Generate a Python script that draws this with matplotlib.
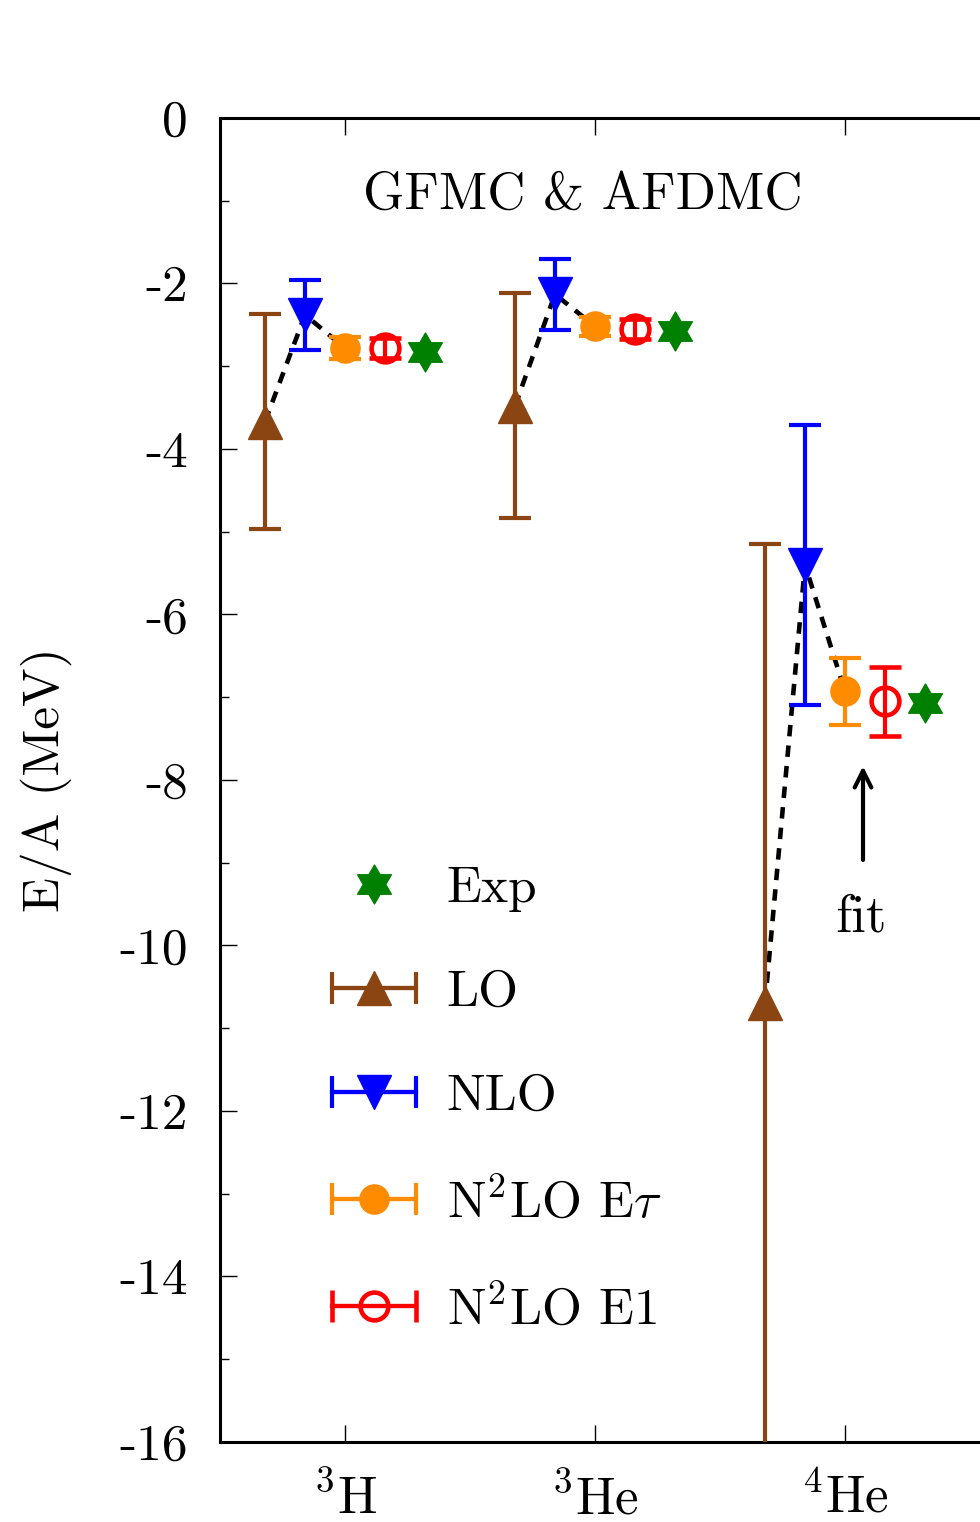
import numpy as np
import matplotlib
matplotlib.use("Agg")
import matplotlib.pyplot as plt
from matplotlib.path import Path
from matplotlib.container import ErrorbarContainer
from matplotlib.legend_handler import HandlerErrorbar
from matplotlib.lines import Line2D

plt.rcParams['font.family'] = ['cmr10', 'DejaVu Serif']
plt.rcParams['mathtext.fontset'] = 'cm'
plt.rcParams['axes.unicode_minus'] = False

# data: E/A in MeV for 3H, 3He, 4He
nuclei = ["${}^{3}$H", "${}^{3}$He", "${}^{4}$He"]
lo = [-3.67, -3.48, -10.70]
lo_err = [1.30, 1.36, 5.55]
nlo = [-2.38, -2.13, -5.40]
nlo_err = [0.42, 0.43, 1.69]
n2lo_et = [-2.78, -2.52, -6.93]
n2lo_et_err = [0.13, 0.12, 0.40]
n2lo_e1 = [-2.78, -2.55, -7.05]
n2lo_e1_err = [0.12, 0.12, 0.42]
exp = [-2.827, -2.573, -7.074]

yticks = [0, -2, -4, -6, -8, -10, -12, -14, -16]

x = np.arange(1, len(nuclei) + 1)
off = 0.16

brown = '#8B4513'
blue = '#0000FF'
orange = '#FF8C00'
red = '#FF0000'
green = '#008000'

hexagram = Path.unit_regular_star(6, 1 / np.sqrt(3))

fig = plt.figure(figsize=(9.8, 15.22), dpi=100)
ax = fig.add_axes([0.2245, 0.0526, 1.0204, 0.8699])

eb = dict(lw=3, capsize=11.5, capthick=3, ls='none')

# dotted lines LO -> NLO -> N2LO
for i in range(len(x)):
    ax.plot([x[i] - 2 * off, x[i] - off, x[i]], [lo[i], nlo[i], n2lo_et[i]],
            ls=(0, (2.5, 2)), color='k', lw=3.3, zorder=1)

ax.errorbar(x - 2 * off, lo, yerr=lo_err, color=brown, marker='^', ms=25, zorder=3, **eb)
ax.errorbar(x - off, nlo, yerr=nlo_err, color=blue, marker='v', ms=25, zorder=3, **eb)
ax.errorbar(x, n2lo_et, yerr=n2lo_et_err, color=orange, marker='o', ms=21, zorder=3, **eb)
ax.errorbar(x + off, n2lo_e1, yerr=n2lo_e1_err, color=red, marker='o', ms=20,
            mfc='none', mew=3.3, zorder=3, **eb)
ax.plot(x + 2 * off, exp, ls='none', marker=hexagram, ms=28, color=green, zorder=3)

# legend proxies (horizontal bars like the original)
nan = [np.nan]
h_exp = Line2D([], [], ls='none', marker=hexagram, ms=28, color=green)
h_lo = ax.errorbar(nan, nan, xerr=[1], fmt='-', color=brown, marker='^', ms=25, lw=3, capsize=11.5, capthick=3)
h_nlo = ax.errorbar(nan, nan, xerr=[1], fmt='-', color=blue, marker='v', ms=25, lw=3, capsize=11.5, capthick=3)
h_et = ax.errorbar(nan, nan, xerr=[1], fmt='-', color=orange, marker='o', ms=21, lw=3, capsize=11.5, capthick=3)
h_e1 = ax.errorbar(nan, nan, xerr=[1], fmt='-', color=red, marker='o', ms=20, mfc='none', mew=3.3,
                   lw=3, capsize=11.5, capthick=3)

hl = 1.63
ax.legend([h_exp, h_lo, h_nlo, h_et, h_e1],
          ['Exp', 'LO', 'NLO', 'N$^2$LO E$\\tau$', 'N$^2$LO E1'],
          handler_map={ErrorbarContainer: HandlerErrorbar(xerr_size=hl / 2)},
          loc='upper left', bbox_to_anchor=(0.112, 0.435), frameon=False,
          fontsize=37, handlelength=hl, handletextpad=0.6, labelspacing=1.13,
          borderpad=0, borderaxespad=0)

ax.text(0.363, 0.942, 'GFMC & AFDMC', transform=ax.transAxes, ha='center', va='center', fontsize=38)
ax.annotate('', xy=(3.072, -7.8), xytext=(3.072, -9.0),
            arrowprops=dict(arrowstyle='->', color='k', lw=3, mutation_scale=30))
ax.text(3.064, -9.67, 'fit', ha='center', va='center', fontsize=38)

ax.set_xlim(0.5, 4.5)
ax.set_ylim(-16, 0)
ax.set_xticks(x)
ax.set_xticklabels(nuclei, fontsize=38)
ax.set_yticks(yticks)
ax.set_yticklabels([str(t) for t in yticks], fontsize=37)
ax.set_yticks(np.arange(-15, 0, 2), minor=True)
ax.set_ylabel('E/A (MeV)', fontsize=37, labelpad=34)

ax.tick_params(which='both', direction='in', top=True, right=True, width=1)
ax.tick_params(which='major', length=12.5)
ax.tick_params(axis='y', which='major', pad=23)
ax.tick_params(axis='x', which='major', pad=22)
ax.tick_params(which='minor', length=6.5)
for s in ax.spines.values():
    s.set_linewidth(2.2)

fig.savefig('out.png', dpi=100)
